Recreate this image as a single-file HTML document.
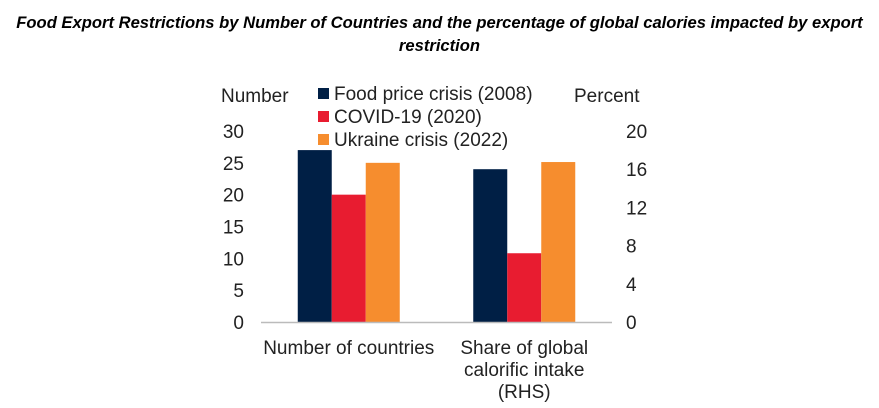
<!DOCTYPE html>
<html><head><meta charset="utf-8"><style>
body{margin:0;background:#fff;width:879px;height:408px;overflow:hidden;font-family:"Liberation Sans",Arial,sans-serif}
.title{position:absolute;left:0;width:879px;top:11px;text-align:center;font-family:"Liberation Sans",sans-serif;font-weight:bold;font-style:italic;font-size:16.6px;line-height:23px;color:#000;white-space:nowrap}
</style></head><body>
<div class="title">Food Export Restrictions by Number of Countries and the percentage of global calories impacted by export<br>restriction</div>
<svg id="chart" width="879" height="408" style="position:absolute;left:0;top:0"></svg>
<script>
const categories=["Number of countries","Share of global calorific intake (RHS)"];
const seriesNames=["Food price crisis (2008)","COVID-19 (2020)","Ukraine crisis (2022)"];
const food2008=[27,16];
const covid2020=[20,7.2];
const ukraine2022=[25,16.75];
const leftTicks=[0,5,10,15,20,25,30];
const rightTicks=[0,4,8,12,16,20];
const colors=["#001f45","#e81c30","#f68d2e"];
const svg=document.getElementById('chart');const NS="http://www.w3.org/2000/svg";
function el(t,a,txt){const e=document.createElementNS(NS,t);for(const k in a)e.setAttribute(k,a[k]);if(txt!==undefined)e.textContent=txt;svg.appendChild(e);return e;}
const y0=322,yTop=131,x0=261,x1=612;
const yL=v=>y0-(y0-yTop)*v/30;
const yR=v=>y0-(y0-yTop)*v/20;
const gw=(x1-x0)/categories.length;
const xc=i=>x0+gw*(i+0.5);
const bw=34;
const fs=19;
leftTicks.forEach(t=>{const e=el('text',{x:244,y:yL(t)+7,'text-anchor':'end','font-size':fs,fill:'#222'},t);

});
rightTicks.forEach(t=>{const e=el('text',{x:626,y:yR(t)+7,'text-anchor':'start','font-size':fs,fill:'#222'},t);

});
const series=[food2008,covid2020,ukraine2022];
series.forEach((s,si)=>{s.forEach((v,ci)=>{const sc=ci===0?yL:yR;const x=xc(ci)-1.5*bw+si*bw;
const r=el('rect',{x:x,y:sc(v),width:bw,height:y0-sc(v),fill:colors[si]});

});});
const ax=el('line',{x1:x0,x2:x1,y1:y0+0.5,y2:y0+0.5,stroke:'#bbb','stroke-width':1.5});


const lab1=el('text',{x:xc(0),y:354,'text-anchor':'middle','font-size':fs,fill:'#222'},categories[0]);


["Share of global","calorific intake","(RHS)"].forEach((l,i)=>{const t=el('text',{x:xc(1),y:354+i*22,'text-anchor':'middle','font-size':fs,fill:'#222'},l);

});
const la=el('text',{x:221,y:102,'font-size':fs,fill:'#222'},'Number');


const ra=el('text',{x:574,y:102,'font-size':fs,fill:'#222'},'Percent');


seriesNames.forEach((n,i)=>{const y=88+i*23;
const r=el('rect',{x:318,y:y,width:11,height:11,fill:colors[i]});


const t=el('text',{x:334,y:y+12,'font-size':fs,fill:'#222'},n);

});
</script>
</body></html>
